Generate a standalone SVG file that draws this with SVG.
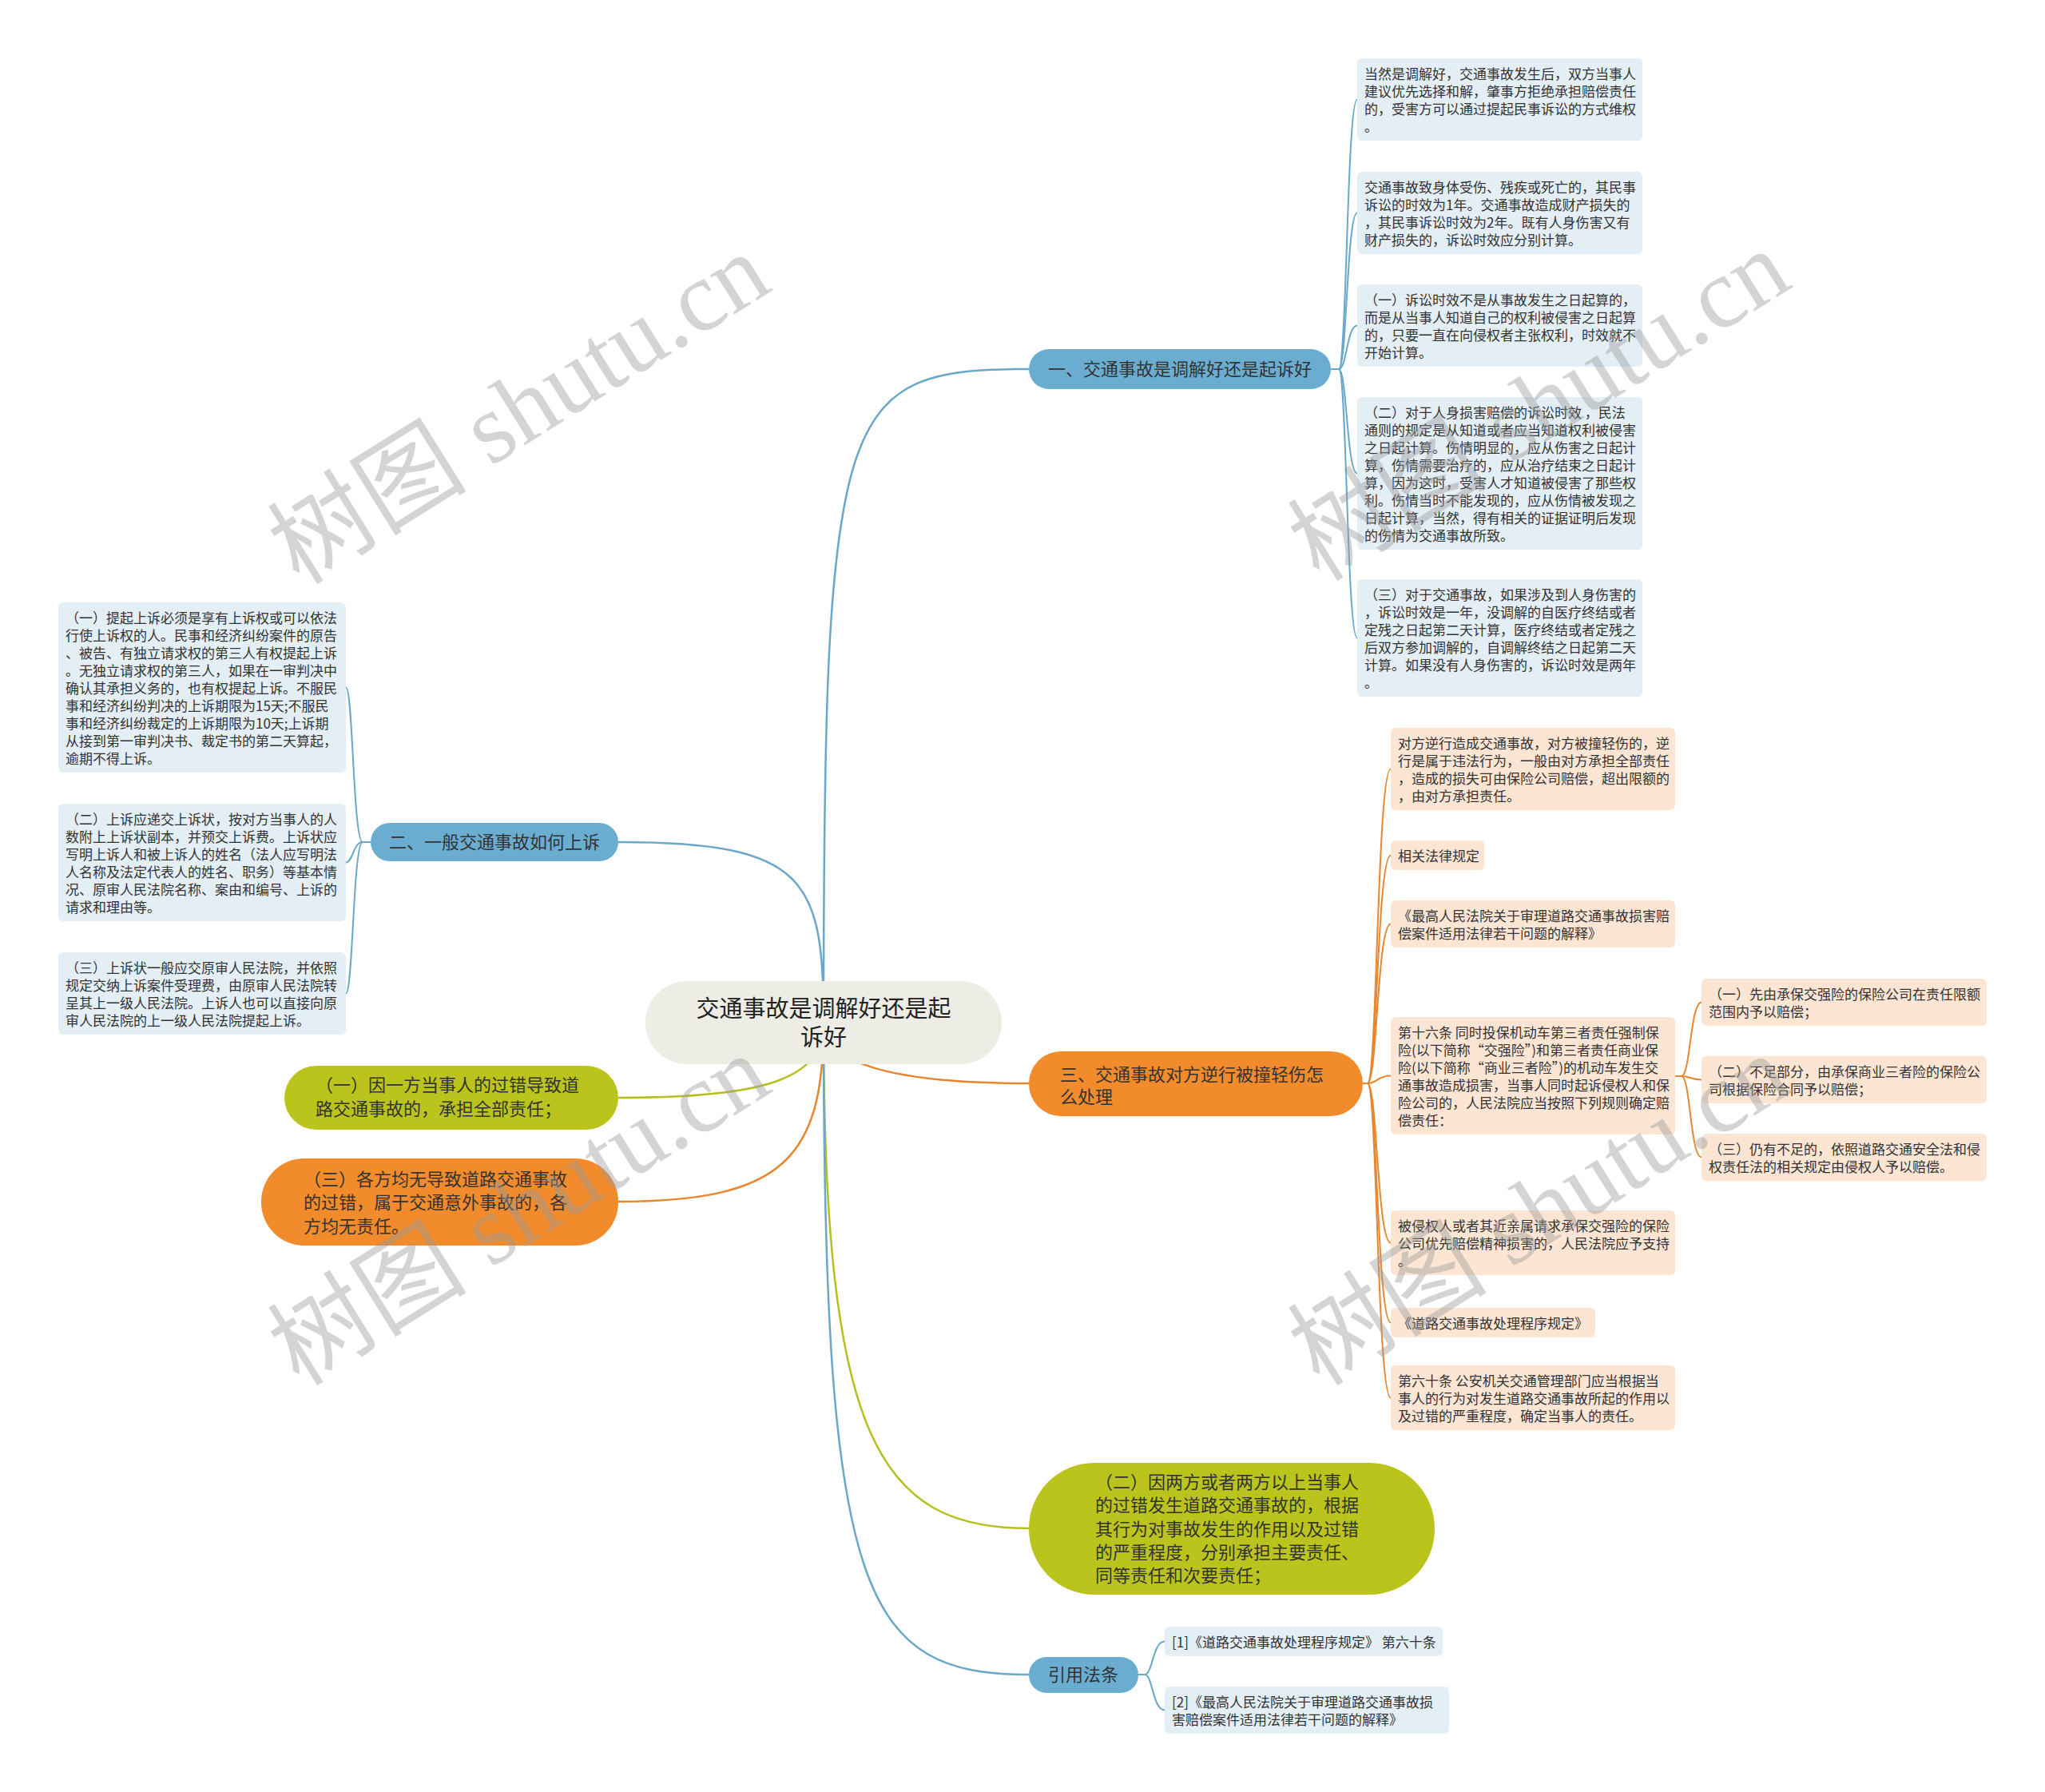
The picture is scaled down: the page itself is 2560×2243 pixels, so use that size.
<svg xmlns="http://www.w3.org/2000/svg" width="2560" height="2243" viewBox="0 0 2560 2243">
<defs>
<style>
text{font-family:"Noto Sans CJK SC","Noto Sans",sans-serif;fill:#333;}
.lf{font-size:17px;}
.br{font-size:22px;}
.rt{font-size:29px;fill:#222;}
.bl{fill:#E3EEF5;}
.ol{fill:#FCE5D3;}
.cb{fill:none;stroke:#6AA8C9;stroke-width:2.5;}
.co{fill:none;stroke:#E8862E;stroke-width:2.5;}
.cg{fill:none;stroke:#B5BF1E;stroke-width:2.5;}
.sb{fill:none;stroke:#6AA8C9;stroke-width:2;}
.so{fill:none;stroke:#E8862E;stroke-width:2;}
.wm{font-family:"Liberation Serif","Noto Sans CJK SC",serif;font-size:125px;fill:#9a9a9a;opacity:0.42;}
</style>
</defs>
<rect width="2560" height="2243" fill="#ffffff"/>

<g id="connectors">
<path class="cb" d="M1031,1280 C1031,500 1050,462 1288,462"/>
<path class="cb" d="M1031,1280 C1031,1100 1010,1054 774,1054"/>
<path class="cg" d="M1031,1280 C1031,1350 960,1374 774,1374"/>
<path class="co" d="M1031,1280 C1031,1450 980,1504 774,1504"/>
<path class="co" d="M1031,1280 C1031,1340 1150,1356 1288,1356"/>
<path class="cg" d="M1031,1280 C1031,1800 1100,1913 1288,1913"/>
<path class="cb" d="M1031,1280 C1031,2000 1080,2096 1288,2096"/>

<path class="sb" d="M1666,462 H1676 C1686,462 1686,124.5 1699,124.5"/>
<path class="sb" d="M1666,462 H1676 C1686,462 1686,266.5 1699,266.5"/>
<path class="sb" d="M1666,462 H1676 C1686,462 1686,407.5 1699,407.5"/>
<path class="sb" d="M1666,462 H1676 C1686,462 1686,592.5 1699,592.5"/>
<path class="sb" d="M1666,462 H1676 C1686,462 1686,798.5 1699,798.5"/>

<path class="sb" d="M464,1054 H454 C442,1054 442,860.5 433,860.5"/>
<path class="sb" d="M464,1054 H454 C442,1054 442,1079.5 433,1079.5"/>
<path class="sb" d="M464,1054 H454 C442,1054 442,1243.5 433,1243.5"/>

<path class="so" d="M1706,1356 H1712 C1724,1356 1724,962.5 1741,962.5"/>
<path class="so" d="M1706,1356 H1712 C1724,1356 1724,1070.5 1741,1070.5"/>
<path class="so" d="M1706,1356 H1712 C1724,1356 1724,1156.5 1741,1156.5"/>
<path class="so" d="M1706,1356 H1712 C1724,1356 1724,1346.5 1741,1346.5"/>
<path class="so" d="M1706,1356 H1712 C1724,1356 1724,1555.5 1741,1555.5"/>
<path class="so" d="M1706,1356 H1712 C1724,1356 1724,1655.5 1741,1655.5"/>
<path class="so" d="M1706,1356 H1712 C1724,1356 1724,1749.5 1741,1749.5"/>

<path class="so" d="M2097,1347 H2105 C2116,1347 2116,1254.5 2130,1254.5"/>
<path class="so" d="M2097,1347 H2105 C2116,1347 2116,1351.5 2130,1351.5"/>
<path class="so" d="M2097,1347 H2105 C2116,1347 2116,1448.5 2130,1448.5"/>

<path class="sb" d="M1425,2096 H1433 C1443,2096 1443,2054.5 1458,2054.5"/>
<path class="sb" d="M1425,2096 H1433 C1443,2096 1443,2140.5 1458,2140.5"/>
</g>

<g id="root">
<rect x="808" y="1228" width="446" height="104" rx="52" fill="#EDEDE6"/>
<text class="rt" x="1031" y="1273" text-anchor="middle">交通事故是调解好还是起</text>
<text class="rt" x="1031" y="1309" text-anchor="middle">诉好</text>
</g>

<g id="b1">
<rect x="1288" y="437" width="378" height="50" rx="25" fill="#6BADD0"/>
<text class="br" x="1477" y="470" text-anchor="middle">一、交通事故是调解好还是起诉好</text>
</g>

<g id="b2">
<rect x="464" y="1030" width="310" height="48" rx="24" fill="#6BADD0"/>
<text class="br" x="619" y="1062" text-anchor="middle">二、一般交通事故如何上诉</text>
</g>

<g id="b3">
<rect x="1288" y="1316" width="418" height="81" rx="40" fill="#F28B2C"/>
<text class="br" x="1327" y="1353">三、交通事故对方逆行被撞轻伤怎</text>
<text class="br" x="1327" y="1381">么处理</text>
</g>

<g id="g1">
<rect x="356" y="1334" width="418" height="80" rx="40" fill="#BBC41C"/>
<text class="br" x="395" y="1366">（一）因一方当事人的过错导致道</text>
<text class="br" x="395" y="1396">路交通事故的，承担全部责任；</text>
</g>

<g id="g3">
<rect x="327" y="1450" width="447" height="109" rx="54" fill="#F28B2C"/>
<text class="br" x="380" y="1484">（三）各方均无导致道路交通事故</text>
<text class="br" x="380" y="1513">的过错，属于交通意外事故的，各</text>
<text class="br" x="380" y="1543">方均无责任。</text>
</g>

<g id="g2">
<rect x="1288" y="1831" width="508" height="165" rx="82" fill="#BBC41C"/>
<text class="br" x="1371" y="1863">（二）因两方或者两方以上当事人</text>
<text class="br" x="1371" y="1892">的过错发生道路交通事故的，根据</text>
<text class="br" x="1371" y="1922">其行为对事故发生的作用以及过错</text>
<text class="br" x="1371" y="1951">的严重程度，分别承担主要责任、</text>
<text class="br" x="1371" y="1980">同等责任和次要责任；</text>
</g>

<g id="b4">
<rect x="1288" y="2074" width="137" height="45" rx="22" fill="#6BADD0"/>
<text class="br" x="1356" y="2104" text-anchor="middle">引用法条</text>
</g>

<g id="leaf-b1">
<rect class="bl" x="1699" y="73" width="357" height="103" rx="6"/>
<text class="lf" x="1708" y="99">当然是调解好，交通事故发生后，双方当事人</text>
<text class="lf" x="1708" y="121">建议优先选择和解，肇事方拒绝承担赔偿责任</text>
<text class="lf" x="1708" y="143">的，受害方可以通过提起民事诉讼的方式维权</text>
<text class="lf" x="1708" y="165">。</text>
</g>
<g id="leaf-b2">
<rect class="bl" x="1699" y="215" width="357" height="103" rx="6"/>
<text class="lf" x="1708" y="241">交通事故致身体受伤、残疾或死亡的，其民事</text>
<text class="lf" x="1708" y="263">诉讼的时效为1年。交通事故造成财产损失的</text>
<text class="lf" x="1708" y="285">，其民事诉讼时效为2年。既有人身伤害又有</text>
<text class="lf" x="1708" y="307">财产损失的，诉讼时效应分别计算。</text>
</g>
<g id="leaf-b3">
<rect class="bl" x="1699" y="356" width="357" height="103" rx="6"/>
<text class="lf" x="1708" y="382">（一）诉讼时效不是从事故发生之日起算的，</text>
<text class="lf" x="1708" y="404">而是从当事人知道自己的权利被侵害之日起算</text>
<text class="lf" x="1708" y="426">的，只要一直在向侵权者主张权利，时效就不</text>
<text class="lf" x="1708" y="448">开始计算。</text>
</g>
<g id="leaf-b4">
<rect class="bl" x="1699" y="497" width="357" height="191" rx="6"/>
<text class="lf" x="1708" y="523">（二）对于人身损害赔偿的诉讼时效 ，民法</text>
<text class="lf" x="1708" y="545">通则的规定是从知道或者应当知道权利被侵害</text>
<text class="lf" x="1708" y="567">之日起计算。伤情明显的，应从伤害之日起计</text>
<text class="lf" x="1708" y="589">算，伤情需要治疗的，应从治疗结束之日起计</text>
<text class="lf" x="1708" y="611">算，因为这时，受害人才知道被侵害了那些权</text>
<text class="lf" x="1708" y="633">利。伤情当时不能发现的，应从伤情被发现之</text>
<text class="lf" x="1708" y="655">日起计算，当然，得有相关的证据证明后发现</text>
<text class="lf" x="1708" y="677">的伤情为交通事故所致。</text>
</g>
<g id="leaf-b5">
<rect class="bl" x="1699" y="725" width="357" height="147" rx="6"/>
<text class="lf" x="1708" y="751">（三）对于交通事故，如果涉及到人身伤害的</text>
<text class="lf" x="1708" y="773">，诉讼时效是一年，没调解的自医疗终结或者</text>
<text class="lf" x="1708" y="795">定残之日起第二天计算，医疗终结或者定残之</text>
<text class="lf" x="1708" y="817">后双方参加调解的，自调解终结之日起第二天</text>
<text class="lf" x="1708" y="839">计算。如果没有人身伤害的，诉讼时效是两年</text>
<text class="lf" x="1708" y="861">。</text>
</g>

<g id="leaf-l1">
<rect class="bl" x="73" y="754" width="360" height="213" rx="6"/>
<text class="lf" x="82" y="780">（一）提起上诉必须是享有上诉权或可以依法</text>
<text class="lf" x="82" y="802">行使上诉权的人。民事和经济纠纷案件的原告</text>
<text class="lf" x="82" y="824">、被告、有独立请求权的第三人有权提起上诉</text>
<text class="lf" x="82" y="846">。无独立请求权的第三人，如果在一审判决中</text>
<text class="lf" x="82" y="868">确认其承担义务的，也有权提起上诉。不服民</text>
<text class="lf" x="82" y="890">事和经济纠纷判决的上诉期限为15天;不服民</text>
<text class="lf" x="82" y="912">事和经济纠纷裁定的上诉期限为10天;上诉期</text>
<text class="lf" x="82" y="934">从接到第一审判决书、裁定书的第二天算起，</text>
<text class="lf" x="82" y="956">逾期不得上诉。</text>
</g>
<g id="leaf-l2">
<rect class="bl" x="73" y="1006" width="360" height="147" rx="6"/>
<text class="lf" x="82" y="1032">（二）上诉应递交上诉状，按对方当事人的人</text>
<text class="lf" x="82" y="1054">数附上上诉状副本，并预交上诉费。上诉状应</text>
<text class="lf" x="82" y="1076">写明上诉人和被上诉人的姓名（法人应写明法</text>
<text class="lf" x="82" y="1098">人名称及法定代表人的姓名、职务）等基本情</text>
<text class="lf" x="82" y="1120">况、原审人民法院名称、案由和编号、上诉的</text>
<text class="lf" x="82" y="1142">请求和理由等。</text>
</g>
<g id="leaf-l3">
<rect class="bl" x="73" y="1192" width="360" height="103" rx="6"/>
<text class="lf" x="82" y="1218">（三）上诉状一般应交原审人民法院，并依照</text>
<text class="lf" x="82" y="1240">规定交纳上诉案件受理费，由原审人民法院转</text>
<text class="lf" x="82" y="1262">呈其上一级人民法院。上诉人也可以直接向原</text>
<text class="lf" x="82" y="1284">审人民法院的上一级人民法院提起上诉。</text>
</g>

<g id="leaf-o1">
<rect class="ol" x="1741" y="911" width="356" height="103" rx="6"/>
<text class="lf" x="1750" y="937">对方逆行造成交通事故，对方被撞轻伤的，逆</text>
<text class="lf" x="1750" y="959">行是属于违法行为，一般由对方承担全部责任</text>
<text class="lf" x="1750" y="981">，造成的损失可由保险公司赔偿，超出限额的</text>
<text class="lf" x="1750" y="1003">，由对方承担责任。</text>
</g>
<g id="leaf-o2">
<rect class="ol" x="1741" y="1052" width="117" height="37" rx="6"/>
<text class="lf" x="1750" y="1078">相关法律规定</text>
</g>
<g id="leaf-o3">
<rect class="ol" x="1741" y="1127" width="356" height="59" rx="6"/>
<text class="lf" x="1750" y="1153">《最高人民法院关于审理道路交通事故损害赔</text>
<text class="lf" x="1750" y="1175">偿案件适用法律若干问题的解释》</text>
</g>
<g id="leaf-o4">
<rect class="ol" x="1741" y="1273" width="356" height="147" rx="6"/>
<text class="lf" x="1750" y="1299">第十六条 同时投保机动车第三者责任强制保</text>
<text class="lf" x="1750" y="1321">险(以下简称“交强险”)和第三者责任商业保</text>
<text class="lf" x="1750" y="1343">险(以下简称“商业三者险”)的机动车发生交</text>
<text class="lf" x="1750" y="1365">通事故造成损害，当事人同时起诉侵权人和保</text>
<text class="lf" x="1750" y="1387">险公司的，人民法院应当按照下列规则确定赔</text>
<text class="lf" x="1750" y="1409">偿责任：</text>
</g>
<g id="leaf-o5">
<rect class="ol" x="1741" y="1515" width="356" height="81" rx="6"/>
<text class="lf" x="1750" y="1541">被侵权人或者其近亲属请求承保交强险的保险</text>
<text class="lf" x="1750" y="1563">公司优先赔偿精神损害的，人民法院应予支持</text>
<text class="lf" x="1750" y="1585">。</text>
</g>
<g id="leaf-o6">
<rect class="ol" x="1741" y="1637" width="256" height="37" rx="6"/>
<text class="lf" x="1750" y="1663">《道路交通事故处理程序规定》</text>
</g>
<g id="leaf-o7">
<rect class="ol" x="1741" y="1709" width="356" height="81" rx="6"/>
<text class="lf" x="1750" y="1735">第六十条 公安机关交通管理部门应当根据当</text>
<text class="lf" x="1750" y="1757">事人的行为对发生道路交通事故所起的作用以</text>
<text class="lf" x="1750" y="1779">及过错的严重程度，确定当事人的责任。</text>
</g>

<g id="leaf-f1">
<rect class="ol" x="2130" y="1225" width="357" height="59" rx="6"/>
<text class="lf" x="2139" y="1251">（一）先由承保交强险的保险公司在责任限额</text>
<text class="lf" x="2139" y="1273">范围内予以赔偿；</text>
</g>
<g id="leaf-f2">
<rect class="ol" x="2130" y="1322" width="357" height="59" rx="6"/>
<text class="lf" x="2139" y="1348">（二）不足部分，由承保商业三者险的保险公</text>
<text class="lf" x="2139" y="1370">司根据保险合同予以赔偿；</text>
</g>
<g id="leaf-f3">
<rect class="ol" x="2130" y="1419" width="357" height="59" rx="6"/>
<text class="lf" x="2139" y="1445">（三）仍有不足的，依照道路交通安全法和侵</text>
<text class="lf" x="2139" y="1467">权责任法的相关规定由侵权人予以赔偿。</text>
</g>

<g id="leaf-r1">
<rect class="bl" x="1458" y="2036" width="348" height="37" rx="6"/>
<text class="lf" x="1467" y="2062">[1]《道路交通事故处理程序规定》 第六十条</text>
</g>
<g id="leaf-r2">
<rect class="bl" x="1458" y="2111" width="356" height="59" rx="6"/>
<text class="lf" x="1467" y="2137">[2]《最高人民法院关于审理道路交通事故损</text>
<text class="lf" x="1467" y="2159">害赔偿案件适用法律若干问题的解释》</text>
</g>

<g id="watermarks">
<text class="wm" transform="translate(650,512) rotate(-32)" x="0" y="42" text-anchor="middle">树图 shutu.cn</text>
<text class="wm" transform="translate(1927,508) rotate(-32)" x="0" y="42" text-anchor="middle">树图 shutu.cn</text>
<text class="wm" transform="translate(650,1515) rotate(-32)" x="0" y="42" text-anchor="middle">树图 shutu.cn</text>
<text class="wm" transform="translate(1927,1515) rotate(-32)" x="0" y="42" text-anchor="middle">树图 shutu.cn</text>
</g>
</svg>
